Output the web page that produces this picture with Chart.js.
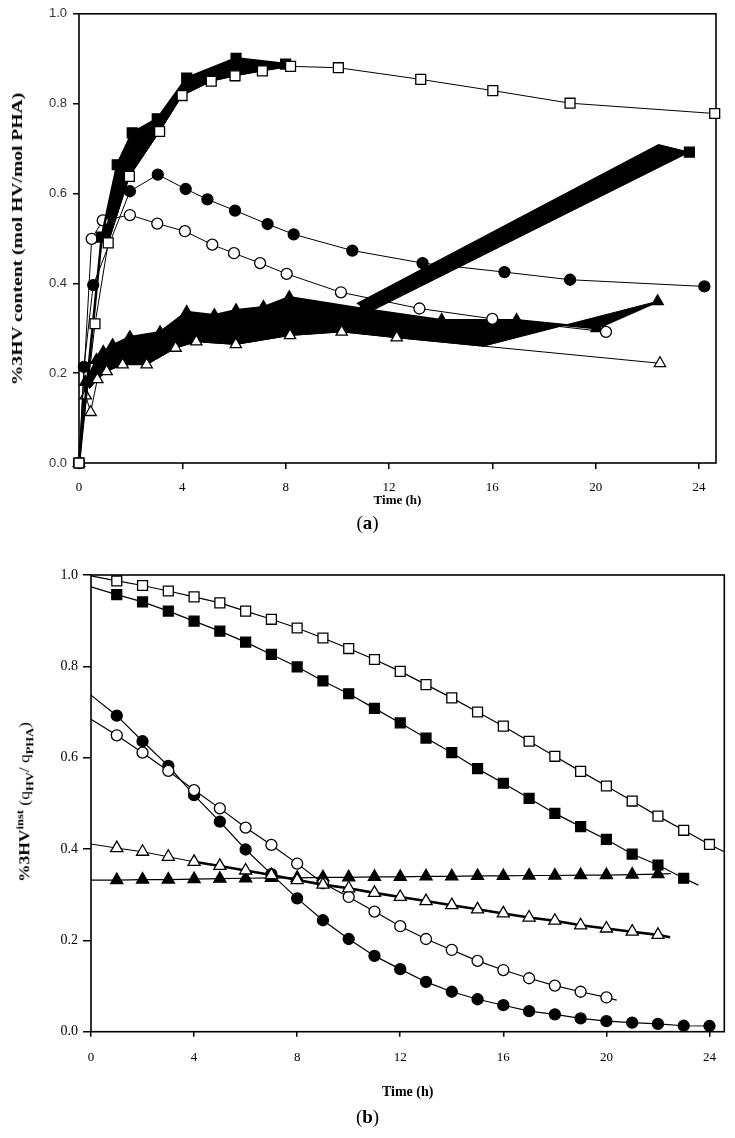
<!DOCTYPE html>
<html>
<head>
<meta charset="utf-8">
<script src="https://cdn.jsdelivr.net/npm/chart.js@4.4.1/dist/chart.umd.min.js"></script>
<style>
  html, body { margin: 0; padding: 0; background: #fff; }
  body { position: relative; width: 735px; height: 1138px; overflow: hidden; }
  canvas { position: absolute; left: 0; }
  #chartA { top: 0; }
  #chartB { top: 540px; }
  .panel { position: absolute; left: 0; width: 735px; text-align: center; line-height: 20px;
           font-family: "Liberation Serif", serif; font-size: 19px; color: #000; }
  .ytitle { position: absolute; white-space: nowrap; line-height: 16px; color: #000;
            font-family: "Liberation Serif", serif; font-weight: bold; }
  #titleA { transform: translate(-50%, -50%) rotate(-90deg) scaleX(1.4); }
  #titleB { transform: translate(-50%, -50%) rotate(-90deg) scaleX(1.25); }
  #titleB sub, #titleB sup { font-size: 10px; }
</style>
</head>
<body>
<canvas id="chartA" width="735" height="515"></canvas>
<div class="ytitle" id="titleA" style="left:18px; top:239px; font-size:14px;">%3HV content (mol HV/mol PHA)</div>
<div class="panel" style="top:513px">(<b>a</b>)</div>

<canvas id="chartB" width="735" height="565"></canvas>
<div class="ytitle" id="titleB" style="left:25px; top:802px; font-size:14px;">%3HV<sup>inst</sup> <span style="font-weight:normal">(q<sub><b>HV</b></sub>/ q<sub><b>PHA</b></sub>)</span></div>
<div class="panel" style="top:1107px">(<b>b</b>)</div>

<script>
// ---- panel (a): %3HV content over time ----
const aOpenSqT = [0, 0.62, 1.13, 1.95, 3.12, 3.99, 5.12, 6.04, 7.10, 8.19, 10.04, 13.23, 16.02, 19.01, 24.61];
const aOpenSqV = [0, 0.31, 0.49, 0.638, 0.738, 0.818, 0.850, 0.862, 0.873, 0.883, 0.880, 0.854, 0.829, 0.801, 0.778];

const aFillSqT = [0, 0.88, 1.48, 2.06, 3.03, 4.17, 6.08, 8.0, 23.63];
const aFillSqV = [0, 0.503, 0.664, 0.735, 0.766, 0.857, 0.901, 0.888, 0.692];

const aFillCircT = [0, 0.19, 0.55, 1.97, 3.05, 4.13, 4.97, 6.04, 7.30, 8.31, 10.58, 13.30, 16.47, 19.01, 24.21];
const aFillCircV = [0, 0.214, 0.396, 0.605, 0.642, 0.610, 0.587, 0.562, 0.532, 0.509, 0.473, 0.445, 0.425, 0.408, 0.393];

const aOpenCircT = [0, 0.49, 0.92, 1.97, 3.03, 4.10, 5.16, 6.0, 7.01, 8.04, 10.14, 13.18, 16.0, 20.40];
const aOpenCircV = [0, 0.499, 0.54, 0.552, 0.533, 0.516, 0.486, 0.467, 0.445, 0.421, 0.38, 0.344, 0.321, 0.292];

const aOpenTriT = [0, 0.26, 0.45, 0.71, 1.07, 1.69, 2.62, 3.74, 4.54, 6.07, 8.17, 10.17, 12.30, 22.49];
const aOpenTriV = [0, 0.15, 0.113, 0.186, 0.204, 0.219, 0.219, 0.256, 0.270, 0.264, 0.284, 0.292, 0.279, 0.222];

const aFillTriT = [0, 0.25, 0.68, 0.94, 1.30, 1.97, 3.14, 4.17, 5.24, 6.08, 7.14, 8.14, 11.0, 14.04, 16.94, 20.04, 22.4];
const aFillTriV = [0, 0.18, 0.229, 0.247, 0.262, 0.28, 0.291, 0.336, 0.329, 0.34, 0.347, 0.369, 0.343, 0.318, 0.318, 0.30, 0.36];

// the black smeared areas of the filled series, outlines
const bandSqT = [0.88, 1.48, 2.06, 3.03, 4.17, 6.08, 8.0, 8.19, 7.10, 6.04, 5.12, 3.99, 3.12, 1.95, 1.13];
const bandSqV = [0.503, 0.664, 0.735, 0.766, 0.857, 0.901, 0.888, 0.883, 0.873, 0.862, 0.850, 0.818, 0.738, 0.638, 0.49];

const bandDiagT = [10.75, 22.43, 23.63, 11.2];
const bandDiagV = [0.355, 0.709, 0.692, 0.335];

const bandTriT = [0.25, 0.68, 0.94, 1.30, 1.97, 3.14, 4.17, 5.24, 6.08, 7.14, 8.14, 11.0, 14.04, 16.94, 20.04, 22.4,
                  15.65, 12.3, 10.17, 8.17, 6.07, 4.54, 3.74, 2.62, 1.69, 1.07, 0.71, 0.4];
const bandTriV = [0.18, 0.229, 0.247, 0.262, 0.28, 0.291, 0.336, 0.329, 0.34, 0.347, 0.369, 0.343, 0.318, 0.318, 0.30, 0.36,
                  0.26, 0.279, 0.292, 0.284, 0.264, 0.27, 0.256, 0.219, 0.219, 0.204, 0.186, 0.165];

// ---- panel (b): instantaneous %3HV ----
const bHours = [1, 2, 3, 4, 5, 6, 7, 8, 9, 10, 11, 12, 13, 14, 15, 16, 17, 18, 19, 20, 21, 22, 23, 24];

const bOpenSqT = [0, ...bHours, 24.57];
const bOpenSqV = [0.998, 0.987, 0.977, 0.965, 0.952, 0.939, 0.921, 0.903, 0.884, 0.862, 0.839, 0.815, 0.789,
                  0.760, 0.731, 0.700, 0.669, 0.636, 0.603, 0.570, 0.538, 0.505, 0.472, 0.441, 0.410, 0.394];

const bFillSqT = [0, ...bHours.slice(0, 23), 23.57];
const bFillSqV = [0.974, 0.957, 0.941, 0.921, 0.899, 0.877, 0.853, 0.826, 0.799, 0.768, 0.740, 0.708, 0.676,
                  0.643, 0.611, 0.576, 0.544, 0.511, 0.478, 0.449, 0.421, 0.389, 0.365, 0.336, 0.321];

const bFillCircT = [0, ...bHours];
const bFillCircV = [0.737, 0.692, 0.636, 0.582, 0.518, 0.460, 0.399, 0.345, 0.292, 0.244, 0.203, 0.166, 0.137,
                    0.109, 0.0875, 0.071, 0.058, 0.045, 0.038, 0.029, 0.023, 0.020, 0.017, 0.013, 0.0125];

const bOpenCircT = [0, ...bHours.slice(0, 20), 20.4];
const bOpenCircV = [0.684, 0.649, 0.611, 0.571, 0.529, 0.489, 0.447, 0.409, 0.368, 0.325, 0.295, 0.263, 0.231,
                    0.203, 0.179, 0.155, 0.135, 0.117, 0.101, 0.0875, 0.075, 0.069];

const bOpenTriT = [0, ...bHours.slice(0, 22), 22.47];
const bOpenTriV = [0.411, 0.402, 0.394, 0.383, 0.372, 0.363, 0.353, 0.343, 0.332, 0.322, 0.314, 0.304, 0.295,
                   0.286, 0.277, 0.268, 0.259, 0.250, 0.243, 0.233, 0.226, 0.219, 0.212, 0.207];

const bFillTriT = [0, ...bHours.slice(0, 22), 22.5];
const bFillTriV = [0.332, 0.332, 0.333, 0.333, 0.334, 0.335, 0.336, 0.337, 0.337, 0.338, 0.338, 0.339, 0.339,
                   0.340, 0.340, 0.341, 0.341, 0.342, 0.342, 0.343, 0.343, 0.344, 0.345, 0.346];

const serif = '"Liberation Serif", "Times New Roman", serif';
const sans = '"Liberation Sans", Arial, sans-serif';

function pts(xs, ys) {
    return xs.map((x, i) => ({x: x, y: ys[i]}));
}

// one plotted series; "ends" lists indexes that only carry the fitted line (no marker)
function series(xs, ys, style, filled, r, lw, ends) {
    ends = ends || [];
    return {
        data: pts(xs, ys),
        showLine: true,
        borderColor: '#000',
        borderWidth: lw,
        pointStyle: style,
        pointRadius: ctx => (ends.includes(ctx.dataIndex) ? 0 : r),
        pointBorderWidth: 1.3,
        pointBackgroundColor: filled ? '#000' : '#fff',
        pointBorderColor: '#000',
        fill: false,
        tension: 0,
        clip: false
    };
}

function band(xs, ys) {
    return {
        data: pts(xs, ys),
        showLine: true,
        fill: 'shape',
        backgroundColor: '#000',
        borderColor: '#000',
        borderWidth: 1,
        pointRadius: 0,
        tension: 0,
        clip: false
    };
}

// box around the plot area
const frame = {
    id: 'frame',
    beforeDatasetsDraw(chart) {
        const {ctx, chartArea: a} = chart;
        ctx.save();
        ctx.strokeStyle = '#000';
        ctx.lineWidth = 1.6;
        ctx.strokeRect(a.left, a.top, a.right - a.left, a.bottom - a.top);
        ctx.restore();
    }
};

function axes(opt) {
    return {
        x: {
            type: 'linear', min: 0, max: opt.xmax,
            ticks: {stepSize: 4, includeBounds: false, maxRotation: 0, color: '#000',
                    font: {family: serif, size: 13}, padding: opt.xpad},
            grid: {drawOnChartArea: false, drawTicks: true, tickLength: opt.xtick, color: '#000', lineWidth: 1.5},
            border: {display: false},
            title: {display: true, text: 'Time (h)', color: '#000',
                    font: {family: serif, size: opt.tsize, weight: 'bold'}, padding: {top: 0, bottom: opt.tpad}},
            afterFit: s => { s.height = opt.xh; }
        },
        y: {
            type: 'linear', min: 0, max: 1,
            ticks: {stepSize: 0.2, color: opt.ycolor, font: opt.yfont, padding: opt.ypad,
                    callback: v => v.toFixed(1)},
            grid: {drawOnChartArea: false, drawTicks: true, tickLength: opt.ytick, color: '#000', lineWidth: 1.5},
            border: {display: false},
            afterFit: s => { s.width = opt.yw; }
        }
    };
}

const common = {
    responsive: false,
    animation: false,
    events: [],
    plugins: {legend: {display: false}, tooltip: {enabled: false}}
};

// panel (a)
let fillSq = series(aFillSqT, aFillSqV, 'rect', true, 7, 2.5);
fillSq.segment = {borderColor: ctx => (ctx.p1DataIndex === aFillSqT.length - 1 ? 'rgba(0,0,0,0)' : undefined)};

new Chart('chartA', {
    type: 'scatter',
    data: {
        datasets: [
            series(aOpenSqT, aOpenSqV, 'rect', false, 7, 1),
            fillSq,
            series(aOpenCircT, aOpenCircV, 'circle', false, 5.5, 1),
            series(aFillCircT, aFillCircV, 'circle', true, 5.5, 1),
            series(aOpenTriT, aOpenTriV, 'triangle', false, 6.5, 1),
            series(aFillTriT, aFillTriV, 'triangle', true, 6.5, 2.5),
            band(bandSqT, bandSqV),
            band(bandDiagT, bandDiagV),
            band(bandTriT, bandTriV)
        ]
    },
    options: Object.assign({}, common, {
        layout: {padding: {top: 13, right: 19, left: 0, bottom: 0}},
        scales: axes({xmax: 24.66, xpad: 11, xtick: 6, tsize: 13, tpad: 7, xh: 52,
                      ycolor: '#333', yfont: {family: sans, size: 13}, ypad: 6, ytick: 6, yw: 79})
    }),
    plugins: [frame]
});

// panel (b)
let openTri = series(bOpenTriT, bOpenTriV, 'triangle', false, 7, 1, [0, bOpenTriT.length - 1]);
openTri.segment = {borderWidth: ctx => (ctx.p0.parsed.x >= 4 ? 2.6 : 1)};

new Chart('chartB', {
    type: 'scatter',
    data: {
        datasets: [
            openTri,
            series(bOpenSqT, bOpenSqV, 'rect', false, 7, 1.2, [0, bOpenSqT.length - 1]),
            series(bFillSqT, bFillSqV, 'rect', true, 7, 1.2, [0, bFillSqT.length - 1]),
            series(bOpenCircT, bOpenCircV, 'circle', false, 5.5, 1.2, [0, bOpenCircT.length - 1]),
            series(bFillCircT, bFillCircV, 'circle', true, 5.5, 1.2, [0]),
            series(bFillTriT, bFillTriV, 'triangle', true, 7, 1.2, [0, bFillTriT.length - 1])
        ]
    },
    options: Object.assign({}, common, {
        layout: {padding: {top: 35, right: 10.7, left: 0, bottom: 0}},
        scales: axes({xmax: 24.575, xpad: 13, xtick: 5, tsize: 14, tpad: 4.6, xh: 73.3,
                      ycolor: '#000', yfont: {family: serif, size: 14}, ypad: 5, ytick: 8, yw: 91})
    }),
    plugins: [frame]
});
</script>
</body>
</html>
